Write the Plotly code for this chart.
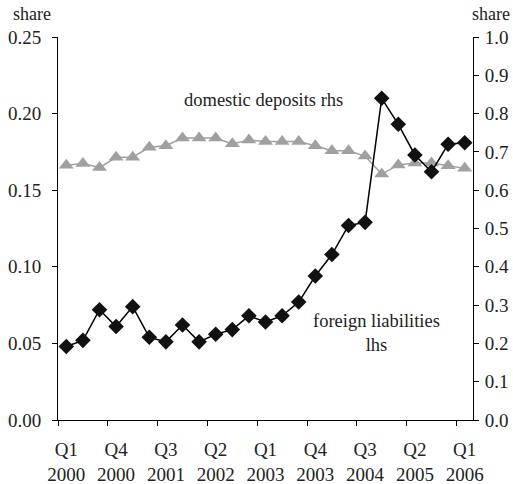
import plotly.graph_objects as go

quarters = ["Q1 2000","Q2 2000","Q3 2000","Q4 2000","Q1 2001","Q2 2001","Q3 2001","Q4 2001",
            "Q1 2002","Q2 2002","Q3 2002","Q4 2002","Q1 2003","Q2 2003","Q3 2003","Q4 2003",
            "Q1 2004","Q2 2004","Q3 2004","Q4 2004","Q1 2005","Q2 2005","Q3 2005","Q4 2005","Q1 2006"]
foreign_liabilities = [0.048, 0.052, 0.072, 0.061, 0.074, 0.054, 0.051, 0.062, 0.051, 0.056,
                       0.059, 0.068, 0.064, 0.068, 0.077, 0.094, 0.108, 0.127, 0.129, 0.210,
                       0.193, 0.173, 0.162, 0.180, 0.181]
domestic_deposits = [0.665, 0.670, 0.659, 0.686, 0.686, 0.712, 0.716, 0.736, 0.736, 0.736,
                     0.721, 0.731, 0.727, 0.727, 0.727, 0.716, 0.703, 0.703, 0.689, 0.642,
                     0.666, 0.671, 0.671, 0.664, 0.657]
tick_idx = list(range(0, 25, 3))
tick_text = [quarters[i].replace(" ", "<br>") for i in tick_idx]

x = list(range(len(quarters)))
FONT = "Liberation Serif, Times New Roman, serif"

W, H = 513, 484
ML, MR, MT, MB = 58, 40, 37, 64

fig = go.Figure()
fig.add_trace(go.Scatter(
    x=x, y=domestic_deposits, yaxis="y", mode="lines+markers",
    line=dict(color="#a0a0a0", width=1.5),
    marker=dict(symbol="triangle-up", size=13, color="#a0a0a0"),
    hovertext=quarters, name="domestic deposits rhs"))
fig.add_trace(go.Scatter(
    x=x, y=foreign_liabilities, yaxis="y2", mode="lines+markers",
    line=dict(color="#000000", width=1.5),
    marker=dict(symbol="diamond", size=12, color="#111111"),
    hovertext=quarters, name="foreign liabilities lhs"))

fig.update_layout(
    width=W, height=H,
    margin=dict(l=ML, r=MR, t=MT, b=MB, autoexpand=False),
    paper_bgcolor="white", plot_bgcolor="white",
    showlegend=False,
    font=dict(family=FONT, size=19, color="#222"),
    xaxis=dict(
        range=[-0.5, 24.5], tickmode="array", tickvals=tick_idx, ticktext=tick_text,
        ticks="", showgrid=False, zeroline=False, showline=True, linecolor="black", linewidth=1,
        ticklabelstandoff=12,
        minor=dict(tickmode="array", tickvals=[i - 0.5 for i in tick_idx], ticks="outside",
                   ticklen=5, tickcolor="black", tickwidth=1, showgrid=False),
    ),
    yaxis=dict(
        side="right", range=[0, 1.0], tickmode="array",
        tickvals=[i / 10 for i in range(11)], tickformat=".1f",
        ticks="outside", ticklen=5, tickcolor="black", showgrid=False, zeroline=False,
        showline=True, linecolor="black", linewidth=1, ticklabelstandoff=2),
    yaxis2=dict(
        side="left", overlaying="y", range=[0, 0.25], tickmode="array",
        tickvals=[0, 0.05, 0.10, 0.15, 0.20, 0.25], tickformat=".2f",
        ticks="outside", ticklen=5, tickcolor="black", showgrid=False, zeroline=False,
        showline=True, linecolor="black", linewidth=1, ticklabelstandoff=7),
)

def px_to_paper(px, py):
    return (px - ML) / (W - ML - MR), (H - MB - py) / (H - MT - MB)

fig.add_annotation(text="domestic deposits rhs", x=11.9, y=0.836, xref="x", yref="y",
                   showarrow=False, font=dict(size=18.5))
fig.add_annotation(text="foreign liabilities<br>lhs", x=18.7, y=0.228, xref="x", yref="y",
                   showarrow=False, font=dict(size=18.5))
for sx in (32, 491):
    px, py = px_to_paper(sx, 14)
    fig.add_annotation(text="share", x=px, y=py, xref="paper", yref="paper",
                       xanchor="center", yanchor="middle",
                       showarrow=False, font=dict(size=18))

fig.write_html("out.html", config={"displayModeBar": False},
               post_script="document.body.style.margin='0';document.body.style.overflow='hidden';")
